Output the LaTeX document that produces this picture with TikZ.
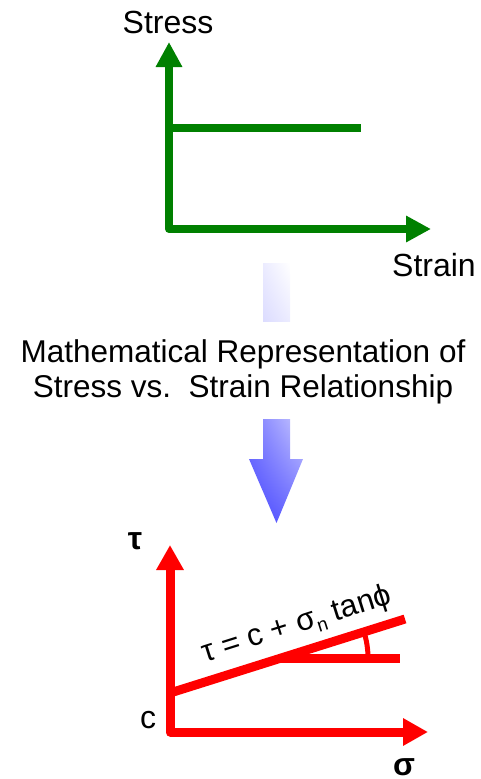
\documentclass[tikz,border=0pt]{standalone}
\usepackage{fontspec}
\setmainfont{Liberation Sans}
\usetikzlibrary{arrows.meta,shadings}
\definecolor{grn}{HTML}{008000}
\definecolor{rd}{HTML}{FF0000}
\definecolor{bluedark}{HTML}{4646FF}
\definecolor{bluelight}{HTML}{C8C8FF}
\definecolor{lav}{HTML}{DCDCFF}
\tikzset{
  greenaxis/.style={draw=grn, line width=8pt, {Triangle[length=25pt,width=25pt]}-{Triangle[length=25pt,width=25pt]}, line join=round},
  greenline/.style={draw=grn, line width=8pt},
  redaxis/.style={draw=rd, line width=9pt, {Triangle[length=25pt,width=26pt]}-{Triangle[length=25pt,width=26pt]}, line join=round},
  redline/.style={draw=rd, line width=9pt},
  lbl/.style={font=\fontsize{32}{36}\selectfont, inner sep=0pt},
  bodytext/.style={font=\fontsize{31.5}{35}\selectfont, align=center, inner sep=0pt},
  redlbl/.style={font=\fontsize{32}{36}\selectfont, inner sep=0pt},
}
\begin{document}
\begin{tikzpicture}[x=1pt,y=-1pt]
\useasboundingbox (0,0) rectangle (481,779);
% green chart
\coordinate (gtop) at (169,42);
\coordinate (gorig) at (169,229);
\coordinate (gright) at (431,229);
\coordinate (gp1) at (169,128);
\coordinate (gp2) at (361,128);
\draw[greenaxis] (gtop) -- (gorig) -- (gright);
\draw[greenline] (gp1) -- (gp2);
\node[lbl] (stress) at (168,22) {Stress};
\node[lbl] (strain) at (434,265) {Strain};
% gradient rectangle
\shade[lower left=lav, upper right=white, upper left=lav!55!white, lower right=lav!55!white] (263,263) rectangle (290,321);
\node (rect) at (276.5,292) {};
% text
\node[bodytext] (txt) at (243,372) {Mathematical Representation of\\Stress vs.\ \ Strain Relationship};
% blue arrow
\shade[lower left=bluedark, upper right=bluelight, upper left=bluedark!60!bluelight, lower right=bluedark!70!bluelight]
  (263,419) -- (290,419) -- (290,459) -- (303,459) -- (276.5,523) -- (249,459) -- (263,459) -- cycle;
% red chart
\coordinate (rtop) at (170,545);
\coordinate (rorig) at (170,732);
\coordinate (rright) at (428,732);
\coordinate (s1) at (170,693);
\coordinate (s2) at (405,619);
\coordinate (h1) at (281,658);
\coordinate (h2) at (400,658);
\draw[redaxis] (rtop) -- (rorig) -- (rright);
\draw[redline] (s1) -- (s2);
\draw[redline] (h1) -- (h2);
\draw[draw=rd, line width=5pt] (368,658) arc[start angle=0, end angle=-17.5, radius=87];
\node[redlbl, font=\fontsize{32}{36}\selectfont\bfseries] (tau) at (135,541) {τ};
\node[redlbl] (c) at (148,720) {c};
\node[redlbl, font=\fontsize{32}{36}\selectfont\bfseries] (sigma) at (404,767) {σ};
\node[font=\fontsize{31}{34}\selectfont, inner sep=0pt, rotate=17.5] (eq) at (297,625) {τ = c + σ\raisebox{-6pt}{\fontsize{19}{20}\selectfont n} tanϕ};
\end{tikzpicture}
\end{document}
